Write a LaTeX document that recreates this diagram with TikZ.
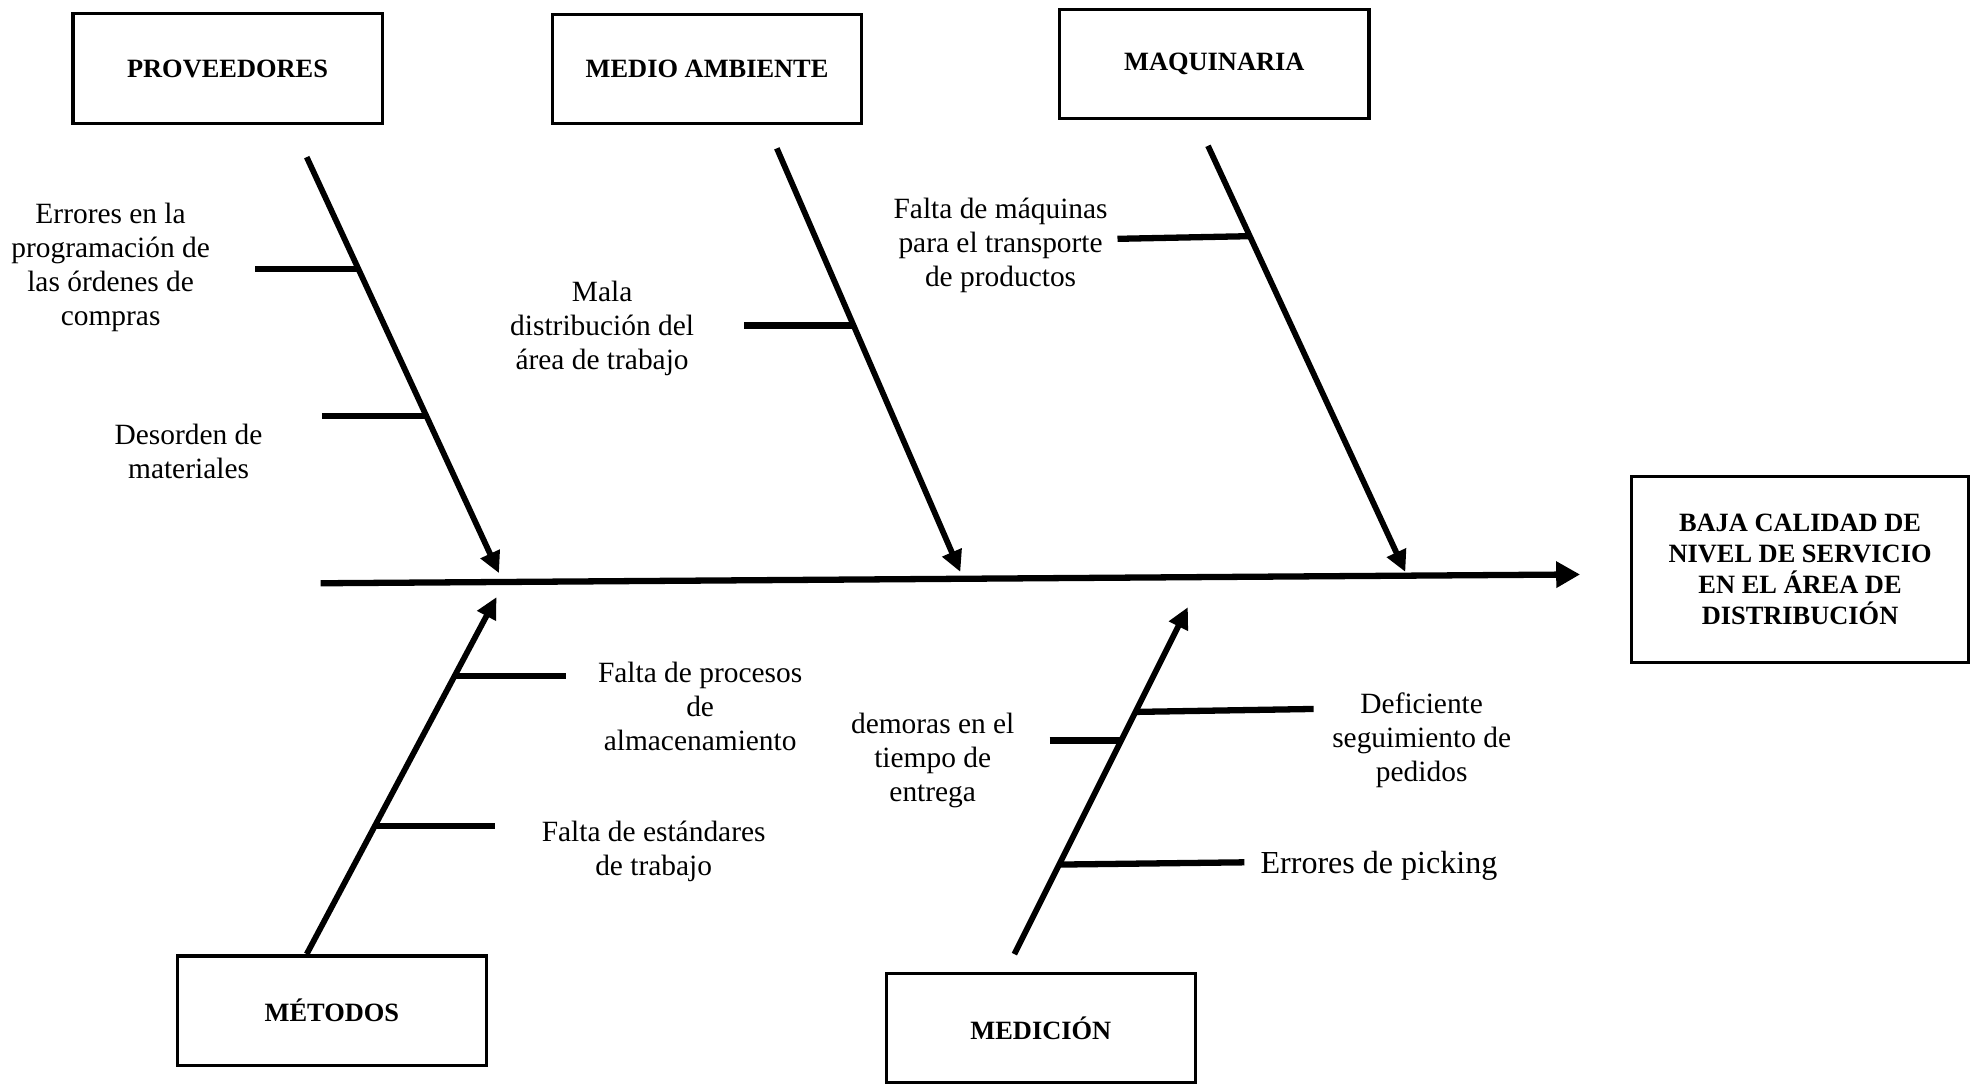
\documentclass[tikz,border=0pt]{standalone}
\usepackage{fontspec}
\setmainfont{Liberation Serif}
\usetikzlibrary{arrows.meta,calc}
\begin{document}
\begin{tikzpicture}[x=1pt,y=-1pt,
  catbox/.style={draw,line width=2.6pt,minimum width=246pt,minimum height=87pt,inner sep=0pt,
    font=\fontsize{21}{25}\selectfont\bfseries,align=center},
  effbox/.style={draw,line width=2.6pt,minimum width=268pt,minimum height=148pt,inner sep=0pt,
    font=\fontsize{21}{24.6}\selectfont\bfseries,align=center},
  lbl/.style={align=center,font=\fontsize{23.4}{27}\selectfont,inner sep=0pt},
  bone/.style={line width=4.6pt,-{Triangle[length=17pt,width=16pt]}},
  spine/.style={line width=5pt,-{Triangle[length=19pt,width=20pt]}},
  rib/.style={line width=5pt}]
\useasboundingbox (0,0) rectangle (1568,862);

% category boxes
\node[catbox] (prov) at (181,54.5) {PROVEEDORES};
\node[catbox] (medio) at (562.5,55) {MEDIO AMBIENTE};
\node[catbox] (maq) at (966,51) {MAQUINARIA};
\node[catbox] (met) at (264,804) {MÉTODOS};
\node[catbox] (med) at (828,818) {MEDICIÓN};
\node[effbox] (eff) at (1432,453) {BAJA CALIDAD DE\\NIVEL DE SERVICIO\\EN EL ÁREA DE\\DISTRIBUCIÓN};

% spine
\coordinate (s0) at (255,464);
\coordinate (s1) at (1257,457);
\draw[spine] (s0) -- (s1);

% bones
\coordinate (p1) at (244,125); \coordinate (p2) at (397,456);
\coordinate (m1) at (618,118); \coordinate (m2) at (764,455);
\coordinate (q1) at (961,116); \coordinate (q2) at (1118,455);
\coordinate (t1) at (244,759); \coordinate (t2) at (395,475);
\coordinate (d1) at (807,759); \coordinate (d2) at (945,483);
\draw[bone] (p1) -- (p2);
\draw[bone] (m1) -- (m2);
\draw[bone] (q1) -- (q2);
\draw[bone] (t1) -- (t2);
\draw[bone] (d1) -- (d2);

% ribs
\coordinate (rp1) at ($(p1)!0.269!(p2)$); \coordinate (ep1) at (203,214);
\coordinate (rp2) at ($(p1)!0.622!(p2)$); \coordinate (ep2) at (256,331);
\coordinate (rm1) at ($(m1)!0.418!(m2)$); \coordinate (em1) at (592,259);
\coordinate (rq1) at ($(q1)!0.212!(q2)$); \coordinate (eq1) at (889,190);
\coordinate (rt1) at ($(t1)!0.777!(t2)$); \coordinate (et1) at (450,538);
\coordinate (rt2) at ($(t1)!0.360!(t2)$); \coordinate (et2) at (394,657);
\coordinate (rd1) at ($(d1)!0.698!(d2)$); \coordinate (ed1) at (1045,564);
\coordinate (rd2) at ($(d1)!0.615!(d2)$); \coordinate (ed2) at (835,589);
\coordinate (rd3) at ($(d1)!0.258!(d2)$); \coordinate (ed3) at (990,686);
\draw[rib] (ep1) -- (rp1 |- ep1);
\draw[rib] (ep2) -- (rp2 |- ep2);
\draw[rib] (em1) -- (rm1 |- em1);
\draw[rib] (eq1) -- (rq1);
\draw[rib] (rt1 |- et1) -- (et1);
\draw[rib] (rt2 |- et2) -- (et2);
\draw[rib] (rd1) -- (ed1);
\draw[rib] (ed2) -- (rd2 |- ed2);
\draw[rib] (rd3) -- (ed3);

% labels
\node[lbl] (l1) at (88,213) {Errores en la\\programación de\\las órdenes de\\compras};
\node[lbl] (l2) at (150,359) {Desorden de\\materiales};
\node[lbl] (l3) at (479,261) {Mala\\distribución del\\área de trabajo};
\node[lbl] (l4) at (796,195) {Falta de máquinas\\para el transporte\\de productos};
\node[lbl] (l5) at (557,562) {Falta de procesos\\de\\almacenamiento};
\node[lbl] (l6) at (520,677) {Falta de estándares\\de trabajo};
\node[lbl] (l7) at (742,605) {demoras en el\\tiempo de\\entrega};
\node[lbl] (l8) at (1131,589) {Deficiente\\seguimiento de\\pedidos};
\node[lbl,font=\fontsize{25.5}{30}\selectfont] (l9) at (1097,689) {Errores de picking};
\end{tikzpicture}
\end{document}
